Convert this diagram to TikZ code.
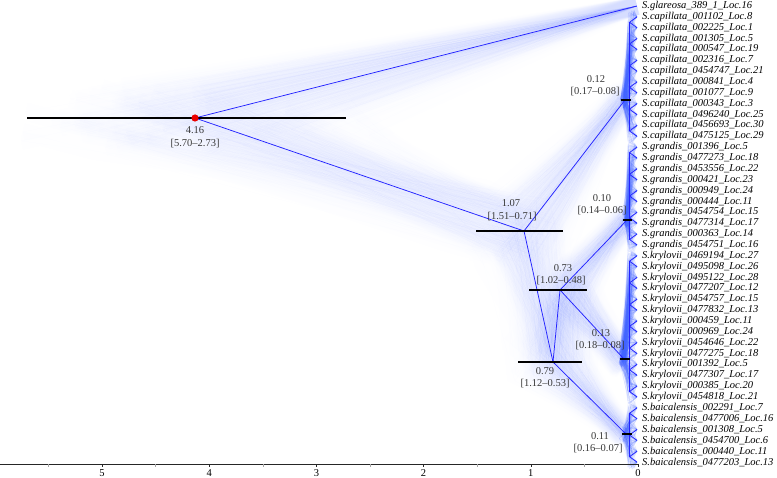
\documentclass[tikz,border=0pt]{standalone}
\usepackage{fontspec}
\setmainfont{Liberation Serif}
\definecolor{treeblue}{RGB}{35,35,255}
\definecolor{hazeblue}{RGB}{60,95,255}
\definecolor{dotred}{RGB}{235,0,0}
\tikzset{
  haze/.style={hazeblue, line width=0.45pt, opacity=0.009},
  glow/.style={hazeblue!30, line width=18pt, opacity=0.006},
  hazeclade/.style={hazeblue, line width=0.5pt, opacity=0.085},
  cladeglow/.style={hazeblue!50, line width=6pt, opacity=0.008},
  cons/.style={treeblue, line width=0.75pt},
  hpd/.style={black, line width=2pt},
  agelab/.style={font=\fontsize{10.5}{11}\selectfont, text=black!78, inner sep=0pt},
  tiplab/.style={font=\fontsize{10.5}{11}\selectfont\itshape, anchor=west, inner sep=0pt},
  ticklab/.style={font=\fontsize{10.5}{11}\selectfont, inner sep=0pt},
  axisline/.style={black!85, line width=0.6pt},
}
\begin{document}
\begin{tikzpicture}[x=1pt,y=-1pt]
\useasboundingbox (0,0) rectangle (777,478);
\pgfmathsetseed{4242}
% ---------- posterior haze (deep nodes) ----------
\foreach \t in {1,...,150}{
  \pgfmathsetmacro\hRa{max(2.5,min(5.9,4.16+0.7*(rand+rand+rand)))}
  \pgfmathsetmacro\hAa{max(0.62,min(\hRa-0.4,1.07+0.2*(rand+rand+rand)))}
  \pgfmathsetmacro\hBa{max(0.45,min(\hAa-0.03,0.79+0.15*(rand+rand+rand)))}
  \pgfmathsetmacro\hCa{max(0.40,min(\hBa-0.02,0.73+0.13*(rand+rand+rand)))}
  \pgfmathsetmacro\hRx{637-107*\hRa}\pgfmathsetmacro\hRy{118+32*rand}
  \pgfmathsetmacro\hAx{637-107*\hAa}\pgfmathsetmacro\hAy{231+32*rand}
  \pgfmathsetmacro\hBx{637-107*\hBa}\pgfmathsetmacro\hBy{362+22*rand}
  \pgfmathsetmacro\hCx{637-107*\hCa}\pgfmathsetmacro\hCy{290+24*rand}
  \pgfmathsetmacro\hPx{637-107*max(0.07,min(0.19,0.12+0.025*(rand+rand+rand)))}\pgfmathsetmacro\hPy{100+14*rand}
  \pgfmathsetmacro\hGx{637-107*max(0.05,min(0.16,0.10+0.02*(rand+rand+rand)))}\pgfmathsetmacro\hGy{220+12*rand}
  \pgfmathsetmacro\hKx{637-107*max(0.07,min(0.19,0.13+0.025*(rand+rand+rand)))}\pgfmathsetmacro\hKy{359+14*rand}
  \pgfmathsetmacro\hDx{637-107*max(0.06,min(0.17,0.11+0.025*(rand+rand+rand)))}\pgfmathsetmacro\hDy{434+8*rand}
  \draw[glow] (\hRx,\hRy) -- (637,6);
  \draw[glow] (\hRx,\hRy) -- (\hAx,\hAy) -- (\hPx,\hPy);
  \draw[glow] (\hAx,\hAy) -- (\hBx,\hBy) -- (\hDx,\hDy);
  \draw[glow] (\hBx,\hBy) -- (\hCx,\hCy) -- (\hGx,\hGy);
  \draw[glow] (\hCx,\hCy) -- (\hKx,\hKy);
  \draw[haze] (\hRx,\hRy) -- (637,6);
  \draw[haze] (\hRx,\hRy) -- (\hAx,\hAy) -- (\hPx,\hPy);
  \draw[haze] (\hAx,\hAy) -- (\hBx,\hBy) -- (\hDx,\hDy);
  \draw[haze] (\hBx,\hBy) -- (\hCx,\hCy) -- (\hGx,\hGy);
  \draw[haze] (\hCx,\hCy) -- (\hKx,\hKy);
}
% ---------- posterior haze (within clades) ----------
\foreach \t in {1,...,50}{
  \foreach \cage/\cy/\ia/\ib in {0.12/100/1/12, 0.10/220/13/22, 0.13/359/23/36, 0.11/434/37/42}{
    \pgfmathsetmacro\hNx{637-107*max(0.05,min(0.19,\cage+0.02*(rand+rand+rand)))}
    \pgfmathsetmacro\hNy{\cy+8*rand}
    \foreach \i in {\ia,...,\ib}{
      \pgfmathsetmacro\hTy{6+10.86*\i}
      \pgfmathsetmacro\hMx{627.5+7.5*rnd}
      \pgfmathsetmacro\hMy{\hTy+7*rand}
      \draw[hazeclade] (\hNx,\hNy) -- (\hMx,\hMy) -- (637,\hTy);
    }
  }
}
\foreach \cy/\ia/\ib in {100/1/12, 220/13/22, 359/23/36, 434/37/42}{
  \foreach \i in {\ia,...,\ib}{
    \draw[cladeglow] (620,\cy) -- (630,{6+10.86*\i}) -- (637,{6+10.86*\i});
  }
}
% ---------- tips ----------
\foreach \i/\name in {
0/S.glareosa\_389\_1\_Loc.16,
1/S.capillata\_001102\_Loc.8,
2/S.capillata\_002225\_Loc.1,
3/S.capillata\_001305\_Loc.5,
4/S.capillata\_000547\_Loc.19,
5/S.capillata\_002316\_Loc.7,
6/S.capillata\_0454747\_Loc.21,
7/S.capillata\_000841\_Loc.4,
8/S.capillata\_001077\_Loc.9,
9/S.capillata\_000343\_Loc.3,
10/S.capillata\_0496240\_Loc.25,
11/S.capillata\_0456693\_Loc.30,
12/S.capillata\_0475125\_Loc.29,
13/S.grandis\_001396\_Loc.5,
14/S.grandis\_0477273\_Loc.18,
15/S.grandis\_0453556\_Loc.22,
16/S.grandis\_000421\_Loc.23,
17/S.grandis\_000949\_Loc.24,
18/S.grandis\_000444\_Loc.11,
19/S.grandis\_0454754\_Loc.15,
20/S.grandis\_0477314\_Loc.17,
21/S.grandis\_000363\_Loc.14,
22/S.grandis\_0454751\_Loc.16,
23/S.krylovii\_0469194\_Loc.27,
24/S.krylovii\_0495098\_Loc.26,
25/S.krylovii\_0495122\_Loc.28,
26/S.krylovii\_0477207\_Loc.12,
27/S.krylovii\_0454757\_Loc.15,
28/S.krylovii\_0477832\_Loc.13,
29/S.krylovii\_000459\_Loc.11,
30/S.krylovii\_000969\_Loc.24,
31/S.krylovii\_0454646\_Loc.22,
32/S.krylovii\_0477275\_Loc.18,
33/S.krylovii\_001392\_Loc.5,
34/S.krylovii\_0477307\_Loc.17,
35/S.krylovii\_000385\_Loc.20,
36/S.krylovii\_0454818\_Loc.21,
37/S.baicalensis\_002291\_Loc.7,
38/S.baicalensis\_0477006\_Loc.16,
39/S.baicalensis\_001308\_Loc.5,
40/S.baicalensis\_0454700\_Loc.6,
41/S.baicalensis\_000440\_Loc.11,
42/S.baicalensis\_0477203\_Loc.13}{
  \coordinate (tip\i) at (637,{6+10.86*\i});
  \node[tiplab] (lab\i) at (642,{6+10.86*\i}) {\name};
}
% ---------- consensus nodes ----------
\coordinate (root) at (195,118);
\coordinate (nA) at (524,231);
\coordinate (nB) at (553,362);
\coordinate (nC) at (560,290);
\coordinate (nP) at (625,100);
\coordinate (nG) at (627,220);
\coordinate (nK) at (624,359);
\coordinate (nD) at (626,434);
% within-clade consensus (spine + cherries)
\foreach \cl/\node/\ia/\np in {cap/nP/1/6, gra/nG/13/5, kry/nK/23/7, bai/nD/37/3}{
  \foreach \j in {1,...,\np}{
    \pgfmathtruncatemacro\ta{\ia+2*(\j-1)}
    \pgfmathtruncatemacro\tb{\ta+1}
    \coordinate (\cl a\j) at (629.5,{6+10.86*(\ta+0.5)});
    \draw[cons] (tip\ta) -- (\cl a\j) -- (tip\tb);
  }
  \draw[cons] (\cl a1) -- (\cl a\np);
  \draw[cons] (\node) -- (\node -| \cl a1);
}
\draw[cons] (root) -- (tip0);
\draw[cons] (root) -- (nA);
\draw[cons] (nA) -- (nP);
\draw[cons] (nA) -- (nB);
\draw[cons] (nB) -- (nC);
\draw[cons] (nC) -- (nG);
\draw[cons] (nC) -- (nK);
\draw[cons] (nB) -- (nD);
% ---------- HPD bars ----------
\draw[hpd] (27,118) -- (346,118);
\draw[hpd] (476,231) -- (563,231);
\draw[hpd] (518,362) -- (582,362);
\draw[hpd] (529,290) -- (587,290);
\draw[hpd] (620.5,100) -- (630.5,100);
\draw[hpd] (623,220) -- (632,220);
\draw[hpd] (619.5,359) -- (629.5,359);
\draw[hpd] (622,434) -- (631.5,434);
\fill[dotred] (root) circle (3.6pt);
% ---------- age labels ----------
\node[agelab] (lR1) at (195,130) {4.16};
\node[agelab] (lR2) at (195,143.5) {[5.70--2.73]};
\node[agelab] (lA1) at (511,203) {1.07};
\node[agelab] (lA2) at (512,217) {[1.51--0.71]};
\node[agelab] (lC1) at (563,268) {0.73};
\node[agelab] (lC2) at (561,281) {[1.02--0.48]};
\node[agelab] (lB1) at (545,371) {0.79};
\node[agelab] (lB2) at (545,384) {[1.12--0.53]};
\node[agelab] (lP1) at (596,79) {0.12};
\node[agelab] (lP2) at (595,91.5) {[0.17--0.08]};
\node[agelab] (lG1) at (602,198) {0.10};
\node[agelab] (lG2) at (602,211) {[0.14--0.06]};
\node[agelab] (lK1) at (601,333) {0.13};
\node[agelab] (lK2) at (600,346) {[0.18--0.08]};
\node[agelab] (lD1) at (600,436) {0.11};
\node[agelab] (lD2) at (598,448.5) {[0.16--0.07]};
% ---------- axis ----------
\draw[axisline] (0,464) -- (638,464);
\foreach \k in {1,...,11}{
  \draw[black!35, line width=0.5pt] ({638-107.2*\k/2},464) -- ++(0,3);
}
\foreach \k in {0,...,5}{
  \draw[axisline] ({638-107.2*\k},464) -- ++(0,2.5);
  \node[ticklab] (tick\k) at ({638-107.2*\k},473.5) {\k};
}
\end{tikzpicture}
\end{document}
